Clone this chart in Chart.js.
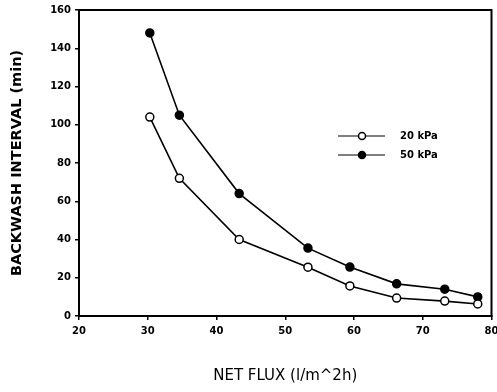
<!DOCTYPE html>
<html lang="en">
<head>
<meta charset="UTF-8" />
<title>Backwash interval vs net flux</title>
<script src="https://cdn.jsdelivr.net/npm/chart.js"></script>
<style>
    html, body { margin: 0; padding: 0; background: #fff; }
    #wrap { width: 497px; height: 392px; }
</style>
</head>
<body>
<div id="wrap"><canvas id="chart"></canvas></div>
<script>
    // values
    const seriesNames = ['20 kPa', '50 kPa'];
    const flux = [30.3, 34.6, 43.3, 53.3, 59.4, 66.2, 73.2, 78.0];
    const interval20 = [104, 72, 40, 25.5, 15.7, 9.4, 7.8, 6.3];
    const interval50 = [148, 105, 64, 35.5, 25.6, 16.8, 14, 10];

    const toPoints = ys => flux.map((x, i) => ({ x: x, y: ys[i] }));

    // box round the plot + legend inside it
    const frameAndLegend = {
        id: 'frameAndLegend',
        afterDraw(chart) {
            const { ctx, chartArea: a } = chart;
            ctx.save();
            ctx.strokeStyle = '#000';
            ctx.lineWidth = 2;
            ctx.strokeRect(a.left, a.top, a.right - a.left, a.bottom - a.top);

            chart.data.datasets.forEach((ds, i) => {
                const y = 136 + i * 19;
                ctx.strokeStyle = '#000';
                ctx.lineWidth = 1.2;
                ctx.beginPath();
                ctx.moveTo(338, y);
                ctx.lineTo(385, y);
                ctx.stroke();
                ctx.beginPath();
                ctx.arc(362, y, 3.5, 0, Math.PI * 2);
                ctx.fillStyle = ds.pointBackgroundColor;
                ctx.fill();
                ctx.lineWidth = 1.5;
                ctx.stroke();
                ctx.fillStyle = '#000';
                ctx.font = 'bold 10px "DejaVu Sans"';
                ctx.textBaseline = 'middle';
                ctx.fillText(ds.label, 400, y);
            });
            ctx.restore();
        }
    };

    const lineStyle = (label, fill) => ({
        label: label,
        borderColor: '#000',
        borderWidth: 1.6,
        pointRadius: 4,
        pointBorderWidth: 1.5,
        pointBorderColor: '#000',
        pointBackgroundColor: fill,
        fill: false,
        tension: 0
    });

    new Chart(document.getElementById('chart'), {
        type: 'line',
        data: {
            datasets: [
                Object.assign(lineStyle(seriesNames[0], '#fff'), { data: toPoints(interval20) }),
                Object.assign(lineStyle(seriesNames[1], '#000'), { data: toPoints(interval50) })
            ]
        },
        options: {
            responsive: true,
            maintainAspectRatio: false,
            animation: false,
            layout: { padding: { top: 10, right: 0, left: 0, bottom: 0 } },
            plugins: { legend: { display: false }, tooltip: { enabled: false } },
            scales: {
                x: {
                    type: 'linear',
                    min: 20, max: 80,
                    afterFit: s => { s.height = 76; s.paddingRight = 5; },
                    border: { color: '#000', width: 2 },
                    grid: { drawOnChartArea: false, tickLength: 4, color: '#000', lineWidth: 1.5 },
                    ticks: { stepSize: 10, color: '#000', padding: 5,
                             font: { family: 'DejaVu Sans', size: 10, weight: 'bold' } },
                    title: { display: true, text: 'NET FLUX (l/m^2h)', color: '#000',
                             padding: { top: 0, bottom: 7 },
                             font: { family: 'DejaVu Sans', size: 15 } }
                },
                y: {
                    min: 0, max: 160,
                    afterFit: s => { s.width = 79; },
                    border: { color: '#000', width: 2 },
                    grid: { drawOnChartArea: false, tickLength: 4, color: '#000', lineWidth: 1.5 },
                    ticks: { stepSize: 20, color: '#000', padding: 4,
                             font: { family: 'DejaVu Sans', size: 10, weight: 'bold' } },
                    title: { display: true, text: 'BACKWASH INTERVAL (min)', color: '#000',
                             padding: { top: 9, bottom: 0 },
                             font: { family: 'DejaVu Sans', size: 14.5, weight: 'bold' } }
                }
            }
        },
        plugins: [frameAndLegend]
    });
</script>
</body>
</html>
